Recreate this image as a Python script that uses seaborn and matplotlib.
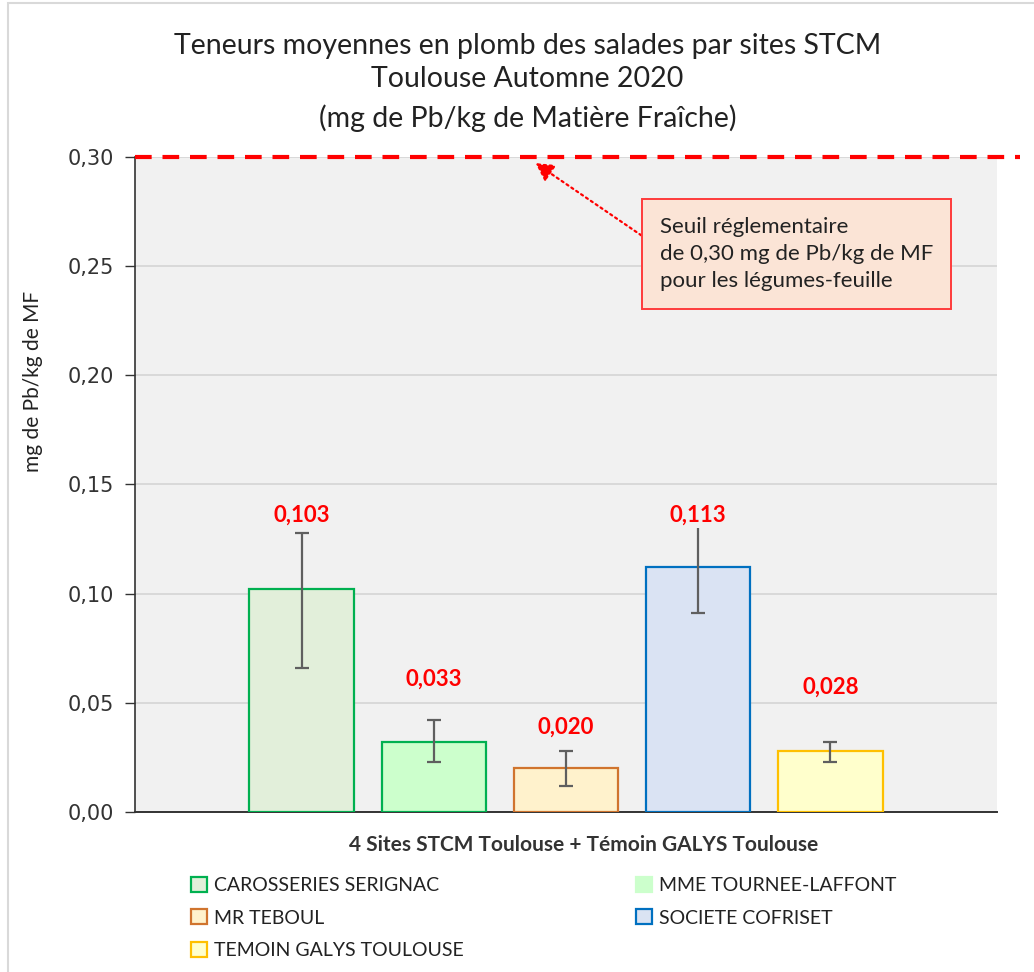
import matplotlib.pyplot as plt
import numpy as np
import seaborn as sns
from matplotlib.patches import Patch, Rectangle

# --- données ---
SITES = ["CAROSSERIES SERIGNAC", "MME TOURNEE-LAFFONT", "MR TEBOUL",
         "SOCIETE COFRISET", "TEMOIN GALYS TOULOUSE"]
MEANS = [0.102, 0.032, 0.020, 0.112, 0.028]
LABELS = ["0,103", "0,033", "0,020", "0,113", "0,028"]
ERR_LOW = [0.066, 0.023, 0.012, 0.091, 0.023]
ERR_HIGH = [0.128, 0.042, 0.028, 0.132, 0.032]
THRESHOLD = 0.30
Y_TICKS = [0.00, 0.05, 0.10, 0.15, 0.20, 0.25, 0.30]

# --- style ---
FILLS = ["#e2efda", "#ccffcc", "#fff2cc", "#dae3f3", "#ffffcc"]
EDGES = ["#00b050", "#00b050", "#d0742e", "#0070c0", "#ffc000"]
LEGEND_EDGES = ["#00b050", "#ccffcc", "#d0742e", "#0070c0", "#ffc000"]
LABEL_OFFSETS = [0.008, 0.019, 0.011, 0.004, 0.025]  # au-dessus de l'erreur haute
BG = "#f1f1f1"
FONT = "Lato"

sns.set_theme(style="white")
plt.rcParams["font.family"] = [FONT, "DejaVu Sans"]

fig = plt.figure(figsize=(10.34, 9.72), dpi=100)
ax = fig.add_axes([0.1306, 0.1646, 0.8336, 0.6739])
ax.set_facecolor(BG)

sns.barplot(x=SITES, y=MEANS, hue=SITES, palette=FILLS, legend=False,
            width=0.79, saturation=1, ax=ax, zorder=3)
for patch, ec in zip(ax.patches, EDGES):
    patch.set_edgecolor(ec)
    patch.set_linewidth(1.6)

xpos = np.arange(len(SITES))
means = np.array(MEANS)
yerr = np.vstack([means - np.array(ERR_LOW), np.array(ERR_HIGH) - means])
ax.errorbar(xpos, means, yerr=yerr, fmt="none", ecolor="#5f5f5f",
            elinewidth=1.6, capsize=5, capthick=1.6, zorder=4)

for i, lab in enumerate(LABELS):
    ax.text(xpos[i], ERR_HIGH[i] + LABEL_OFFSETS[i], lab, ha="center", va="center",
            color="#ff0000", fontsize=16, fontweight="bold", zorder=5,
            bbox=dict(facecolor=BG, edgecolor="none", pad=2))

ax.set_xlim(-1.26, 5.26)
ax.set_ylim(0, 0.30)
ax.set_yticks(Y_TICKS)
ax.set_yticklabels([f"{t:.2f}".replace(".", ",") for t in Y_TICKS],
                   fontsize=15, family="DejaVu Sans", color="#333333")
ax.tick_params(axis="y", which="major", direction="out", length=7, width=1,
               color="#333333", pad=8, left=True)
ax.set_xticks([])
ax.yaxis.grid(True, color="#d5d5d5", linewidth=1.2, zorder=0)
ax.set_axisbelow(True)
for side in ["top", "right"]:
    ax.spines[side].set_visible(False)
ax.spines["left"].set_color("#333333")
ax.spines["bottom"].set_color("#333333")
ax.spines["left"].set_linewidth(1.2)
ax.spines["bottom"].set_linewidth(1.4)

# seuil réglementaire
ax.axhline(THRESHOLD, xmin=0, xmax=1.027, color="#ff0000", linestyle=(0, (4, 2.6)),
           linewidth=3, clip_on=False, zorder=6)
ax.annotate("", xy=(0.462, 0.993), xycoords="axes fraction",
            xytext=(0.590, 0.878), textcoords="axes fraction",
            arrowprops=dict(arrowstyle="-|>,head_length=0.9,head_width=0.5",
                            color="#ff0000", linestyle=":", linewidth=1.6))
ax.text(0.609, 0.852,
        "Seuil réglementaire\nde 0,30 mg de Pb/kg de MF\npour les légumes-feuille",
        transform=ax.transAxes, ha="left", va="center", fontsize=16,
        color="#222222", linespacing=1.45, zorder=7,
        bbox=dict(boxstyle="square,pad=0.8", facecolor="#fbe4d6",
                  edgecolor="#ff3b3b", linewidth=1.4))

ax.set_ylabel("mg de Pb/kg de MF", fontsize=15, color="#222222", labelpad=14)
ax.yaxis.set_label_coords(-0.107, 0.658)
ax.set_xlabel("4 Sites STCM Toulouse + Témoin GALYS Toulouse", fontsize=15,
              fontweight="bold", color="#333333")
ax.xaxis.set_label_coords(0.52, -0.035)

fig.text(0.51, 0.953, "Teneurs moyennes en plomb des salades par sites STCM",
         ha="center", va="center", fontsize=20.5, color="#222222")
fig.text(0.51, 0.919, "Toulouse Automne 2020", ha="center", va="center",
         fontsize=20.5, color="#222222")
fig.text(0.51, 0.878, "(mg de Pb/kg de Matière Fraîche)", ha="center",
         va="center", fontsize=20.5, color="#222222")

# légende, lecture ligne par ligne
handles = [Patch(facecolor=f, edgecolor=e, linewidth=1.6, label=s)
           for f, e, s in zip(FILLS, LEGEND_EDGES, SITES)]
order = [0, 2, 4, 1, 3]
fig.legend([handles[i] for i in order], [SITES[i] for i in order],
           loc="upper left", bbox_to_anchor=(0.168, 0.116), ncol=2,
           frameon=False, fontsize=14, handlelength=0.8, handleheight=0.8,
           handletextpad=0.35, columnspacing=8.9, labelspacing=0.8,
           labelcolor="#222222")

fig.patches.append(Rectangle((0.008, -0.01), 1.0, 1.007, transform=fig.transFigure,
                             fill=False, edgecolor="#d9d9d9", linewidth=1.5))

plt.savefig("out.png", dpi=100)
plt.close()
